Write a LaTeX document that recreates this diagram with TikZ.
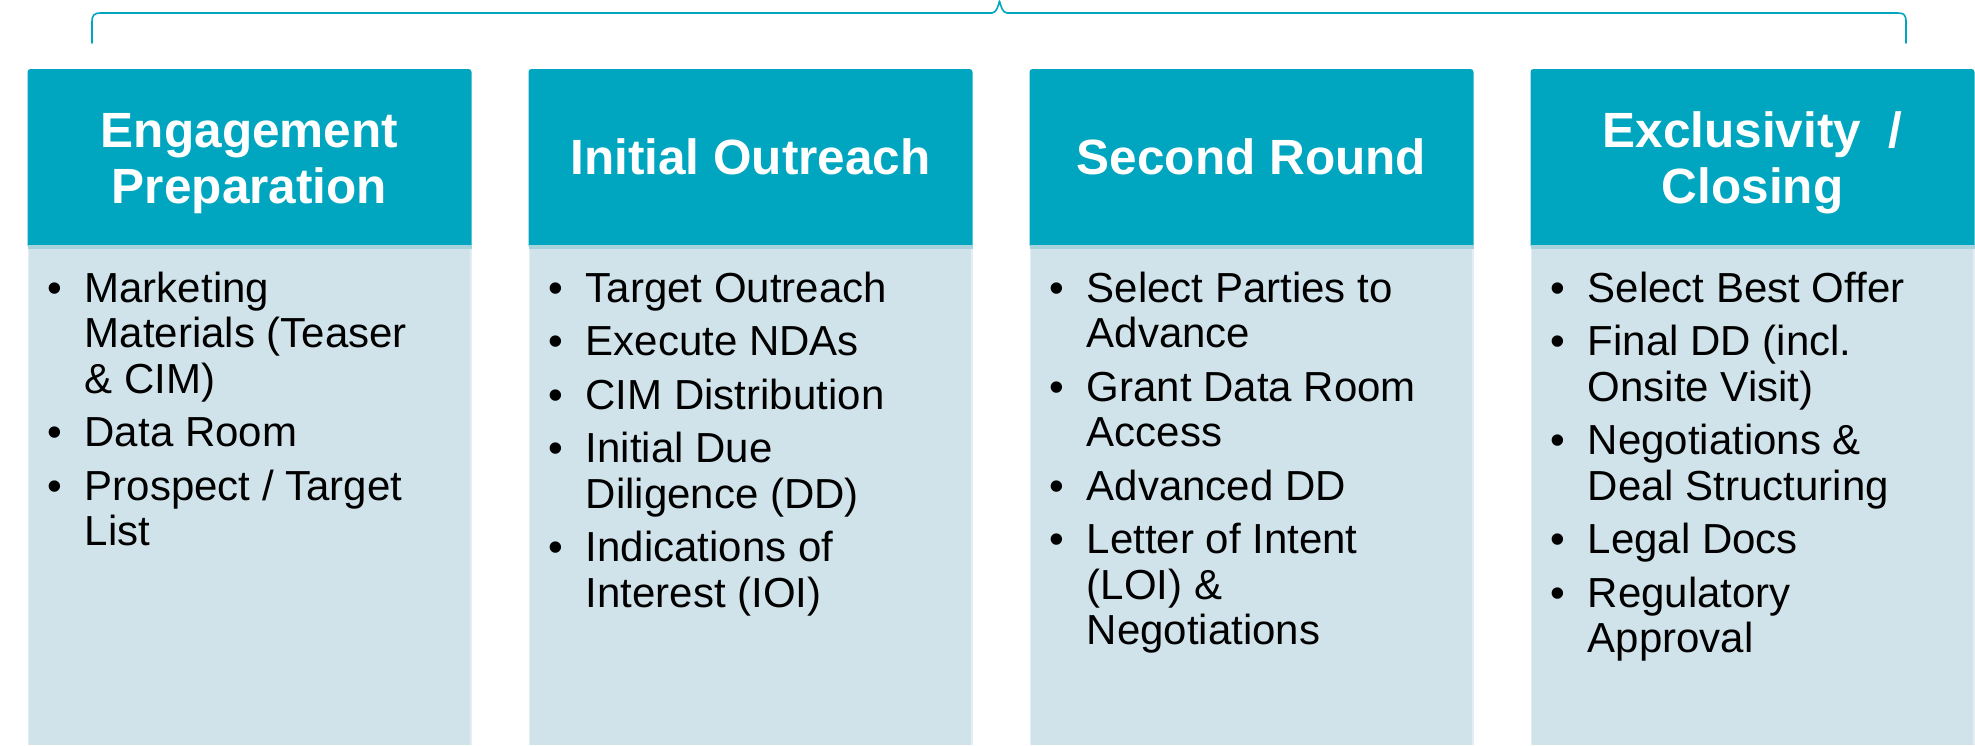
\documentclass[tikz,border=0pt]{standalone}
\usepackage{fontspec}
\setmainfont{Liberation Sans}

\definecolor{headteal}{HTML}{00A6BF}
\definecolor{bodyblue}{HTML}{D1E3EA}
\definecolor{seamblue}{HTML}{A8D2DC}
\definecolor{edgeblue}{HTML}{E2EEF2}

\tikzset{
  headtext/.style={inner sep=0pt, text=white, anchor=base,
    font=\fontsize{49.5}{56.5}\selectfont\bfseries},
  bodytext/.style={inner sep=0pt, text=black, anchor=base west,
    font=\fontsize{42}{45.5}\selectfont},
  bracket/.style={draw=headteal, line width=1.6pt, line cap=round, line join=round},
}

% bullet and hanging indent for the phase lists
\newcommand\bul{\makebox[37pt][l]{\textbullet}}
\newcommand\cnt{\hspace*{37pt}}

% one phase column: #1 left edge, #2 name, #3 header baseline, #4 header, #5 items
\newcommand\phasecol[5]{%
  \fill[bodyblue] (#1,245) rectangle (#1+444,745);
  \draw[edgeblue, line width=1.2pt] (#1+0.6,249) -- (#1+0.6,745)
        (#1+443.4,249) -- (#1+443.4,745);
  \fill[headteal] (#1,246) [rounded corners=3pt] -- (#1,69) -- (#1+444,69)
        [sharp corners] -- (#1+444,246) -- cycle;
  \fill[seamblue] (#1,245) rectangle (#1+444,249);
  \node[headtext] (#2-head) at (#1+222,#3)
        {\begin{tabular}[t]{@{}c@{}}#4\end{tabular}};
  \node[bodytext] (#2-body) at (#1+20,302)
        {\begin{tabular}[t]{@{}l@{}}#5\end{tabular}};
}

\begin{document}
\begin{tikzpicture}[x=1pt, y=-1pt]
  \useasboundingbox (0,0) rectangle (1975,745);

  % bracket spanning all four phases
  \draw[bracket] (92,43) -- (92,22) .. controls (92,15) and (94,13) .. (101,13)
    -- (992,13) .. controls (996.5,13) and (998.5,5) .. (999.5,1)
    .. controls (1000.5,5) and (1002.5,13) .. (1007,13)
    -- (1898,13) .. controls (1904,13) and (1906,15) .. (1906,22) -- (1906,43);

  \phasecol{27.5}{prep}{147}{Engagement\\Preparation}{%
    \bul Marketing\\ \cnt Materials (Teaser\\ \cnt \& CIM)\\[8pt]
    \bul Data Room\\[8pt]
    \bul Prospect / Target\\ \cnt List}

  \phasecol{528.5}{outreach}{174}{Initial Outreach}{%
    \bul Target Outreach\\[8pt]
    \bul Execute NDAs\\[8pt]
    \bul CIM Distribution\\[8pt]
    \bul Initial Due\\ \cnt Diligence (DD)\\[8pt]
    \bul Indications of\\ \cnt Interest (IOI)}

  \phasecol{1029.5}{second}{174}{Second Round}{%
    \bul Select Parties to\\ \cnt Advance\\[8pt]
    \bul Grant Data Room\\ \cnt Access\\[8pt]
    \bul Advanced DD\\[8pt]
    \bul Letter of Intent\\ \cnt (LOI) \&\\ \cnt Negotiations}

  \phasecol{1530.5}{closing}{147}{Exclusivity\ \ /\\Closing}{%
    \bul Select Best Offer\\[8pt]
    \bul Final DD (incl.\\ \cnt Onsite Visit)\\[8pt]
    \bul Negotiations \&\\ \cnt Deal Structuring\\[8pt]
    \bul Legal Docs\\[8pt]
    \bul Regulatory\\ \cnt Approval}
\end{tikzpicture}
\end{document}
